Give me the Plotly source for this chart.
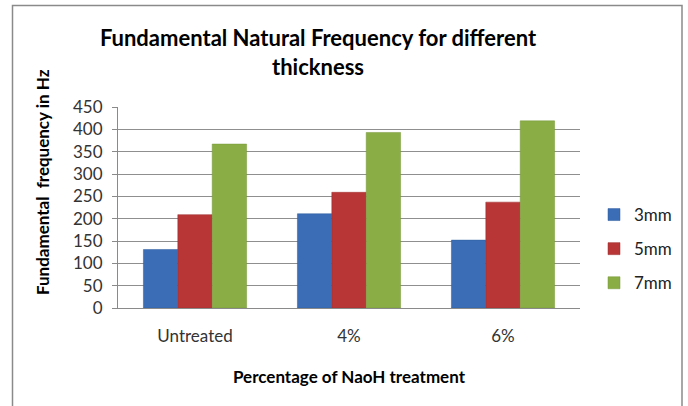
import plotly.graph_objects as go

categories = ["Untreated", "4%", "6%"]
series_names = ["3mm", "5mm", "7mm"]
vals_3mm = [131, 211, 152]
vals_5mm = [209, 259, 237]
vals_7mm = [367, 393, 419]
y_ticks = [0, 50, 100, 150, 200, 250, 300, 350, 400, 450]

colors = ["#3a6db5", "#b83636", "#8bad45"]
edge = ["#2f5d9e", "#9e2e2e", "#76963a"]

W, H = 688, 406
L, R, T, B = 118, 580, 107, 308

FONT = "Lato, Calibri, Carlito, sans-serif"

fig = go.Figure()
for name, vals, c, e in zip(series_names, [vals_3mm, vals_5mm, vals_7mm], colors, edge):
    fig.add_trace(go.Bar(
        x=categories, y=vals, name=name, legendgroup=name,
        marker=dict(color=c, line=dict(color=e, width=0.5)),
    ))

def px_x(p):
    return (p - L) / (R - L)

def px_y(p):
    return (B - p) / (B - T)

fig.add_shape(type="rect", xref="paper", yref="paper",
              x0=px_x(12.5), x1=px_x(682), y0=px_y(415), y1=px_y(5.5),
              line=dict(color="#8a8a8a", width=1.5), fillcolor="rgba(0,0,0,0)", layer="below")

# y-axis title (placed like the reference, slightly above the plot centre)
fig.add_annotation(
    text="<b>Fundamental  frequency in Hz</b>", textangle=-90,
    xref="paper", yref="paper", x=px_x(42), y=px_y(182),
    xanchor="center", yanchor="middle", showarrow=False,
    font=dict(size=17, color="#000000", family=FONT),
)

fig.update_layout(
    width=W, height=H,
    margin=dict(l=L, r=W - R, t=T, b=H - B, pad=0, autoexpand=False),
    paper_bgcolor="white", plot_bgcolor="white",
    barmode="group", bargap=0.33, bargroupgap=0,
    font=dict(family=FONT, color="#222222"),
    title=dict(
        text="<b>Fundamental Natural Frequency for different<br>thickness</b>",
        x=px_x(318), xref="paper", xanchor="center",
        y=1 - 46 / H, yref="container", yanchor="top",
        font=dict(size=22, color="#000000", family=FONT),
    ),
    showlegend=True,
    legend=dict(
        x=px_x(594), xanchor="left", y=px_y(197), yanchor="top",
        font=dict(size=17, color="#222222"),
        tracegroupgap=9, itemwidth=30,
        bgcolor="rgba(0,0,0,0)",
    ),
    xaxis=dict(
        automargin=False,
        showline=True, linecolor="#8a8a8a", linewidth=1,
        ticks="", tickfont=dict(size=17, color="#333333"), ticklabelstandoff=13,
        title=dict(text="<b>Percentage of NaoH treatment</b>", font=dict(size=17, color="#000000"), standoff=25),
    ),
    yaxis=dict(
        automargin=False,
        range=[0, 450], tickvals=y_ticks,
        showline=True, linecolor="#8a8a8a", linewidth=1,
        showgrid=True, gridcolor="#8f8f8f", gridwidth=1,
        ticks="outside", ticklen=5, tickcolor="#8a8a8a",
        tickfont=dict(size=17, color="#333333"), ticklabelstandoff=6,
        zeroline=False,
    ),
)

fig.write_html("out.html", config={"displayModeBar": False},
               post_script="document.body.style.margin='0px';")
